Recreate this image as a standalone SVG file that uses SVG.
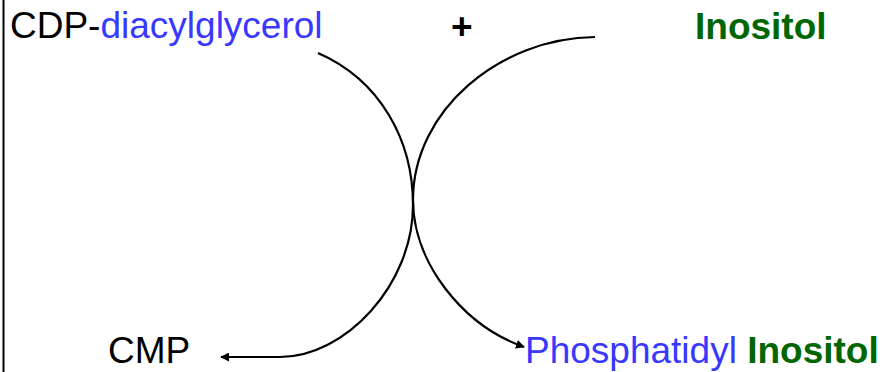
<svg xmlns="http://www.w3.org/2000/svg" width="882" height="372" viewBox="0 0 882 372">
<style>
text{font-family:"Liberation Sans",Arial,sans-serif;font-size:37px}
.k{fill:#000}
.b{fill:#3838ff}
.g{fill:#006600;font-weight:bold}
.c{fill:none;stroke:#000;stroke-width:2.2}
</style>
<defs>
<marker id="ah" viewBox="0 0 10 10" refX="9" refY="5" markerWidth="9" markerHeight="9" markerUnits="userSpaceOnUse" orient="auto">
<path d="M0,0 L10,5 L0,10 Z" fill="#000"/>
</marker>
</defs>
<rect width="882" height="372" fill="#fff"/>
<line x1="3.5" y1="0" x2="3.5" y2="372" stroke="#000" stroke-width="2"/>
<g id="cdp"><text x="10" y="38"><tspan class="k">CDP-</tspan><tspan class="b">diacylglycerol</tspan></text></g>
<g id="plus"><text class="k" x="451" y="39" font-weight="bold">+</text></g>
<g id="inositol"><text class="g" x="695" y="39">Inositol</text></g>
<g id="cmp"><text class="k" x="108" y="363">CMP</text></g>
<g id="pi"><text x="525" y="363"><tspan class="b">Phosphatidyl</tspan> <tspan class="g">Inositol</tspan></text></g>
<g id="connectors">
<path class="c" d="M318,53 C380,80 413,140 413,205 C413,285 345,357 280,357 L221,357" marker-end="url(#ah)"/>
<path class="c" d="M595,37 C500,38 413,110 413,200 C413,262 462,325 524,347" marker-end="url(#ah)"/>
</g>
</svg>
